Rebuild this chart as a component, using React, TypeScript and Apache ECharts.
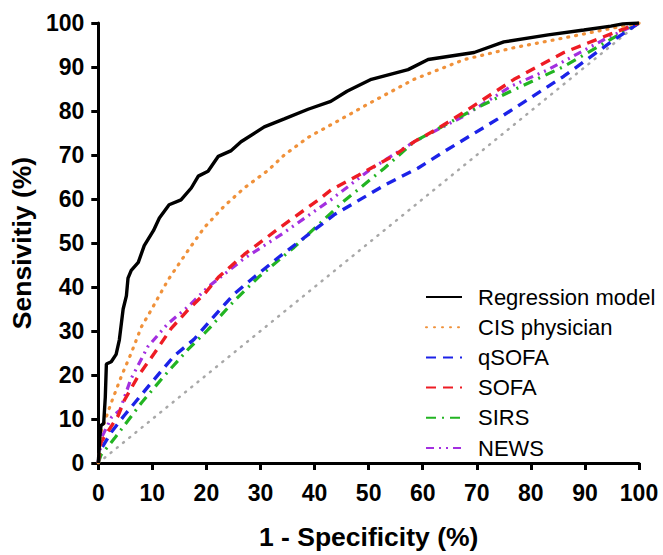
import React, { useEffect, useRef } from "react";
import * as echarts from "echarts";

const seriesNames = ["Regression model", "CIS physician", "qSOFA", "SOFA", "SIRS", "NEWS"];

const regression: [number, number][] = [
  [0, 0], [0.3, 6], [0.5, 8.5], [1, 9], [1.3, 15], [1.5, 22.5], [2.4, 23], [3.3, 24.7], [3.9, 28],
  [4.6, 35], [5.2, 38], [5.5, 42], [6.1, 43.8], [7.4, 45.6], [8.5, 49.4], [10.2, 52.8], [11.3, 55.7],
  [13.1, 58.7], [15.3, 59.8], [17.2, 62.5], [18.5, 65.2], [20.3, 66.3], [22.2, 69.7], [24.6, 71],
  [26.4, 73], [30.7, 76.4], [34.4, 78.2], [38.8, 80.4], [43, 82.2], [46, 84.5], [50.5, 87.2],
  [57.3, 89.4], [61, 91.7], [69.5, 93.3], [75, 95.7], [83.2, 97.3], [89.8, 98.4], [94.8, 99.3],
  [97, 99.8], [100, 100],
];

const cisPhysician: [number, number][] = [
  [0, 0], [0.5, 7], [2.4, 13.7], [4.3, 19.8], [6.1, 25], [8, 31], [9.8, 34.8], [12.9, 41.6],
  [16.6, 48.3], [19.6, 53.5], [23.3, 58.4], [27, 62.5], [31.4, 66.5], [34.4, 70], [38.8, 74],
  [44.4, 77.8], [50.5, 82], [58.4, 87.2], [67.7, 91.7], [76.9, 94.4], [86.1, 96.6], [95.4, 98.9],
  [100, 100],
];

const qsofa: [number, number][] = [
  [0, 0], [0.2, 2.5], [2.4, 7], [4.8, 10.8], [9.8, 18.2], [14, 24.3], [17.7, 28.1], [21.4, 33.3],
  [25.1, 38.4], [28.8, 42.2], [33.3, 46.7], [43.6, 56.4], [52.9, 63.1], [59.1, 67], [64, 70.8],
  [73.9, 78.2], [86.1, 87.9], [95.4, 96.2], [100, 100],
];

const sofa: [number, number][] = [
  [0, 0], [0.5, 4.7], [3.7, 10.8], [4.8, 14.2], [7.4, 19.8], [10.4, 25], [13.5, 30.6], [16.6, 34.8],
  [19.6, 38.4], [22.2, 42.2], [27, 47.4], [33.8, 53.7], [40.7, 59.8], [43, 62], [48.1, 65.4],
  [51, 67.4], [54.7, 69.9], [58.4, 73], [62.8, 76], [67.7, 79.8], [76.9, 87.2], [86.1, 93.3],
  [95.4, 97.8], [100, 100],
];

const sirs: [number, number][] = [
  [0, 0], [0.5, 1.8], [3, 5.6], [8, 13.7], [12.2, 19.8], [16.6, 25.8], [20.3, 30.3], [25.1, 36.8],
  [29.6, 42.2], [36.2, 49], [45.5, 59.6], [52.9, 67], [58.4, 73], [69.5, 80.4], [76.3, 84.5],
  [86.1, 90.1], [92.4, 94.6], [100, 100],
];

const news: [number, number][] = [
  [0, 0], [0.7, 6], [2.5, 10.5], [4, 12], [6, 19], [9.2, 26.5], [12.9, 31.7], [16.6, 35.5],
  [20.3, 40], [27, 46.5], [33.8, 51.9], [43, 59.8], [50.5, 66.9], [58.4, 73], [67.7, 78.9],
  [76.3, 85.6], [83.2, 89.4], [93.5, 96.2], [100, 100],
];

const reference: [number, number][] = [[0, 0], [100, 100]];

const xAxisTitle = "1 - Specificity (%)";
const yAxisTitle = "Sensivitiy (%)";

const FONT = "'Liberation Sans', Arial, Helvetica, sans-serif";

export default function App() {
  const ref = useRef<HTMLDivElement>(null);
  useEffect(() => {
    if (!ref.current) return;
    const chart = echarts.init(ref.current, undefined, { renderer: "svg" });
    const axisCommon = {
      type: "value" as const,
      min: 0,
      max: 100,
      interval: 10,
      splitLine: { show: false },
      axisLine: { show: true, lineStyle: { color: "#000", width: 3 } },
      axisTick: { show: true, inside: false, length: 7, lineStyle: { color: "#000", width: 3 } },
      nameLocation: "middle" as const,
      nameTextStyle: { fontFamily: FONT, fontWeight: "bold" as const, fontSize: 26.5, color: "#000" },
    };
    const mk = (name: string, data: [number, number][], color: string, type: any, width = 3, cap: any = "butt") => ({
      name,
      type: "line" as const,
      data,
      symbol: "none",
      showSymbol: false,
      lineStyle: { color, width, type, cap },
      itemStyle: { color },
      z: 3,
    });
    chart.setOption({
      animation: false,
      backgroundColor: "#fff",
      grid: { left: 97, right: 24, top: 23, bottom: 87, containLabel: false },
      xAxis: {
        ...axisCommon,
        name: xAxisTitle,
        nameGap: 60,
        axisLabel: { fontFamily: FONT, fontWeight: "bold", fontSize: 23, color: "#000", margin: 18 },
      },
      yAxis: {
        ...axisCommon,
        name: yAxisTitle,
        nameGap: 60,
        axisLabel: { fontFamily: FONT, fontWeight: "bold", fontSize: 23, color: "#000", margin: 14 },
      },
      legend: {
        data: seriesNames,
        orient: "vertical",
        left: 420,
        top: 281,
        padding: 5,
        itemWidth: 36,
        itemHeight: 20,
        itemGap: 8.2,
        itemStyle: { color: "transparent", borderColor: "transparent", borderWidth: 0, opacity: 0 },
        textStyle: { fontFamily: FONT, fontSize: 22, lineHeight: 20, color: "#000", padding: [0, 0, 0, 11] },
      },
      series: [
        {
          ...mk("Reference", reference, "#a8a8a8", [1, 7], 2.5, "round"),
          z: 1,
        },
        mk("NEWS", news, "#a32fe0", [8, 5, 2, 5, 2, 5], 3.2),
        mk("SIRS", sirs, "#22b422", [10, 6, 2, 6], 3.2),
        mk("qSOFA", qsofa, "#1c22e8", [10, 7], 3.4),
        mk("SOFA", sofa, "#ee1c24", [10, 7], 3.4),
        mk("CIS physician", cisPhysician, "#f0913a", [1, 7], 3.2, "round"),
        mk("Regression model", regression, "#000000", "solid", 3.4),
      ],
    });
    return () => chart.dispose();
  }, []);
  return (
    <div
      ref={ref}
      style={{ position: "absolute", left: 0, top: 0, width: 663, height: 555, background: "#fff" }}
    />
  );
}
